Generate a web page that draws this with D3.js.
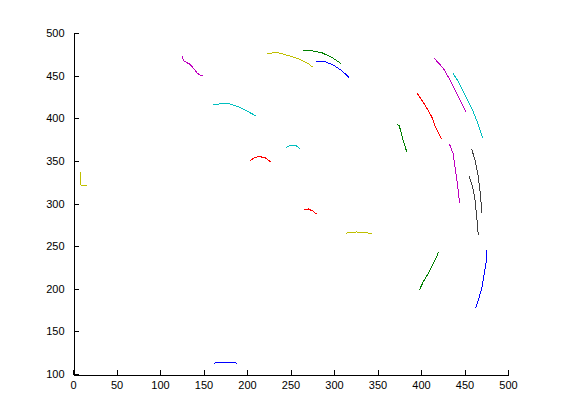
<!DOCTYPE html>
<html>
<head>
<meta charset="utf-8">
<script src="https://cdn.jsdelivr.net/npm/d3@7"></script>
<style>
  html, body { margin: 0; padding: 0; background: #fff; }
  svg { display: block; }
  text { font-family: "Liberation Sans", Arial, Helvetica, sans-serif; font-size: 11px; fill: #000; }
</style>
</head>
<body>
<svg id="chart" width="561" height="420"></svg>
<script>
// ---- data ----
const xTicks = [0, 50, 100, 150, 200, 250, 300, 350, 400, 450, 500];
const yTicks = [100, 150, 200, 250, 300, 350, 400, 450, 500];

const magentaTop   = [[125.6,473.0],[126.8,467.5],[134.5,463.3],[140.2,456.6],[142.2,453.4],[146.0,450.7],[149.1,450.7]];
const cyanArc      = [[161.3,415.5],[172.8,417.5],[180.5,416.7],[192.0,412.8],[201.5,407.7],[210.3,402.6]];
const redArc       = [[203.4,350.2],[209.2,354.2],[215.0,354.9],[220.7,353.7],[227.2,349.0]];
const cyanSmall    = [[244.8,365.9],[251.4,368.6],[257.1,367.4],[261.7,363.6]];
const yellowTop    = [[222.6,476.2],[236.0,476.9],[249.4,473.0],[260.9,469.1],[271.6,463.3],[275.5,459.8]];
const greenTop     = [[264.7,479.2],[274.4,479.2],[285.9,476.9],[297.4,471.5],[307.7,464.5]];
const blueTop      = [[279.3,466.3],[289.7,466.3],[299.2,462.5],[308.9,455.8],[317.2,448.0]];
const greenMid     = [[372.1,393.3],[375.1,391.0],[377.8,380.4],[380.5,370.6],[383.6,360.8]];
const redRight     = [[395.7,429.3],[400.8,421.4],[405.7,413.6],[412.3,401.8],[416.1,390.9],[423.8,375.3]];
const magentaRight = [[415.3,470.3],[425.6,458.6],[433.3,444.9],[441.0,429.3],[446.8,417.5],[451.7,407.7]];
const cyanRight    = [[436.4,453.4],[442.9,442.9],[450.6,427.3],[458.3,411.7],[464.7,396.0],[470.9,376.5]];
const magentaLow   = [[432.8,369.4],[436.8,358.9],[439.1,343.2],[441.7,323.7],[444.5,300.2]];
const grayOuter    = [[458.3,363.6],[462.1,351.0],[465.9,331.4],[468.6,308.0],[469.8,289.2]];
const grayInner    = [[455.2,332.3],[459.4,319.7],[462.1,304.1],[464.0,284.5],[465.9,263.0]];
const yellowLeft   = [[9.2,337.3],[8.8,329.6],[9.2,321.7],[16.4,321.7]];
const redSmall     = [[265.5,292.4],[270.5,293.6],[275.5,291.2],[280.0,287.7]];
const yellowMid    = [[313.8,265.0],[318.4,266.2],[326.1,266.6],[335.6,266.2],[343.3,264.2]];
const greenLow     = [[398.1,198.5],[402.7,208.3],[408.4,218.2],[413.4,227.9],[417.2,235.7],[420.3,243.5]];
const blueLow      = [[462.9,177.1],[465.9,186.8],[469.8,200.5],[472.4,216.1],[474.7,229.9],[475.5,245.5]];
const blueBottom   = [[162.1,112.6],[168.2,113.8],[184.3,113.8],[188.9,112.6]];

// ---- drawing ----
const C = { b:"#0000ff", g:"#008000", r:"#ff0000", c:"#00bfbf", m:"#bf00bf", y:"#bfbf00", k:"#404040" };
const curves = [
  [magentaTop, C.m], [cyanArc, C.c], [redArc, C.r], [cyanSmall, C.c],
  [yellowTop, C.y], [greenTop, C.g], [blueTop, C.b], [greenMid, C.g],
  [redRight, C.r], [magentaRight, C.m], [cyanRight, C.c], [magentaLow, C.m],
  [grayOuter, C.k], [grayInner, C.k], [yellowLeft, C.y], [redSmall, C.r],
  [yellowMid, C.y], [greenLow, C.g], [blueLow, C.b], [blueBottom, C.b]
];

const svg = d3.select("#chart");
const x = d3.scaleLinear().domain([0, 500]).range([73, 508]);
const y = d3.scaleLinear().domain([100, 500]).range([374, 33]);

const line = d3.line().x(d => x(d[0])).y(d => y(d[1]));

svg.append("g").selectAll("path").data(curves).join("path")
  .attr("d", d => line(d[0]))
  .attr("fill", "none")
  .attr("stroke", d => d[1])
  .attr("stroke-width", 1)
  .attr("shape-rendering", "crispEdges");

// axes (MATLAB style: inward ticks, no box)
const xAxis = d3.axisBottom(x).tickValues(xTicks).tickFormat(d3.format("d")).tickSizeInner(-5).tickSizeOuter(0).tickPadding(7);
const yAxis = d3.axisLeft(y).tickValues(yTicks).tickFormat(d3.format("d")).tickSizeInner(-5).tickSizeOuter(0).tickPadding(9);

const gx = svg.append("g").attr("transform", "translate(0,374.5)").call(xAxis);
const gy = svg.append("g").attr("transform", "translate(73.5,0)").call(yAxis);
[gx, gy].forEach(g => {
  g.selectAll("path.domain").attr("stroke", "#000").attr("shape-rendering", "crispEdges");
  g.selectAll("line").attr("stroke", "#000").attr("shape-rendering", "crispEdges");
  g.selectAll("text").attr("font-family", "\"Liberation Sans\", Arial, sans-serif").attr("font-size", 11).attr("fill", "#000");
});
</script>
</body>
</html>
